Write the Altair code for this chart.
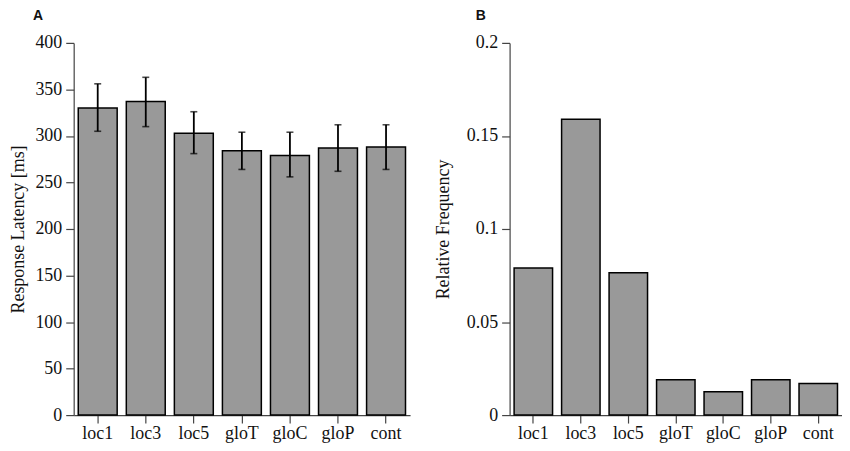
import altair as alt
import pandas as pd

categories = ["loc1", "loc3", "loc5", "gloT", "gloC", "gloP", "cont"]
latency = [330, 337, 303, 284, 279, 287, 288]
latency_hi = [356, 363, 326, 304, 304, 312, 312]
latency_lo = [305, 310, 281, 264, 256, 262, 264]
frequency = [0.079, 0.159, 0.0765, 0.019, 0.0125, 0.019, 0.017]

dfA = pd.DataFrame({"cond": categories, "lat": latency, "hi": latency_hi, "lo": latency_lo})
dfB = pd.DataFrame({"cond": categories, "freq": frequency})

SERIF = "Liberation Serif"
AXIS_COLOR = "#444444"

xscale = alt.Scale(paddingInner=0.19, paddingOuter=0.095)

def xaxis():
    return alt.Axis(title=None, labelAngle=0, labelFont=SERIF, labelFontSize=18,
                    labelColor="#111111", domainColor=AXIS_COLOR, tickColor=AXIS_COLOR,
                    tickSize=8, labelPadding=2, domainWidth=1.2, tickWidth=1.2, grid=False)

def yaxis(title, values, fmt, pad):
    return alt.Axis(title=title, values=values, format=fmt, labelFont=SERIF, labelFontSize=18,
                    labelColor="#111111", titleFont=SERIF, titleFontSize=18,
                    titleFontWeight="normal", titleColor="#111111", titlePadding=pad,
                    domainColor=AXIS_COLOR, tickColor=AXIS_COLOR, tickSize=8,
                    labelPadding=4, domainWidth=1.2, tickWidth=1.2, grid=False)

X = alt.X("cond:N", sort=categories, scale=xscale, axis=xaxis())

baseA = alt.Chart(dfA)
barsA = baseA.mark_bar(color="#999999", stroke="#000000", strokeWidth=1.5).encode(
    x=X,
    y=alt.Y("lat:Q", scale=alt.Scale(domain=[0, 400]),
            axis=yaxis("Response Latency [ms]", [0, 50, 100, 150, 200, 250, 300, 350, 400], "d", 7)),
)
errA = baseA.mark_rule(color="#000000", strokeWidth=1.8).encode(
    x=alt.X("cond:N", sort=categories, scale=xscale), y="lo:Q", y2="hi:Q")
capHi = baseA.mark_tick(color="#000000", size=7, thickness=1.6).encode(
    x=alt.X("cond:N", sort=categories, scale=xscale), y="hi:Q")
capLo = baseA.mark_tick(color="#000000", size=7, thickness=1.6).encode(
    x=alt.X("cond:N", sort=categories, scale=xscale), y="lo:Q")

panelA = alt.layer(barsA, errA, capHi, capLo).properties(
    width=338, height=374,
    title=alt.TitleParams("A", anchor="start", frame="group", dx=-41, offset=11,
                          font="Liberation Sans", fontSize=14, fontWeight="bold", color="#111111"),
)

panelB = alt.Chart(dfB).mark_bar(color="#999999", stroke="#000000", strokeWidth=1.5).encode(
    x=alt.X("cond:N", sort=categories, scale=xscale, axis=xaxis()),
    y=alt.Y("freq:Q", scale=alt.Scale(domain=[0, 0.2]),
            axis=yaxis("Relative Frequency", [0, 0.05, 0.1, 0.15, 0.2], "~g", 14)),
).properties(
    width=334, height=374,
    title=alt.TitleParams("B", anchor="start", frame="group", dx=-34, offset=11,
                          font="Liberation Sans", fontSize=14, fontWeight="bold", color="#111111"),
)

chart = alt.hconcat(panelA, panelB, spacing=24).properties(
    padding={"left": 2, "top": 0, "right": 0, "bottom": 0},
    background="white",
).configure_view(stroke=None)

chart.save("out.html", embed_options={"renderer": "svg", "actions": False})
